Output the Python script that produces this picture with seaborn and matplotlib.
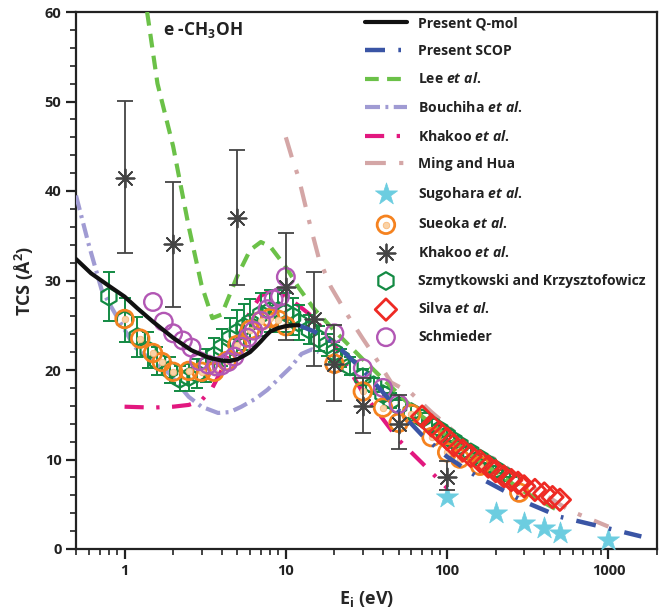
import numpy as np
import pandas as pd
import matplotlib
matplotlib.use("Agg")
import matplotlib.pyplot as plt
import seaborn as sns
from matplotlib.ticker import LogLocator, NullFormatter, MultipleLocator, FixedLocator, FixedFormatter

# ---------------- data ----------------
qmol_E = [0.5, 0.62, 0.8, 1.0, 1.2, 1.5, 2.0, 2.6, 3.3, 4.0, 4.5, 5.0, 5.5, 6.0, 6.5, 7.0, 7.5, 8.0, 9.0, 10, 11, 12]
qmol_y = [32.4, 30.8, 29.4, 28.2, 26.9, 25.4, 23.6, 22.2, 21.4, 21.05, 21.0, 21.2, 21.6, 22.0, 22.6, 23.2, 23.8, 24.3, 24.7, 24.9, 25.0, 25.0]

scop_E = [12, 15, 20, 30, 40, 50, 70, 100, 150, 200, 300, 500, 1000, 1600]
scop_y = [25.0, 24.3, 23.0, 20.0, 17.5, 15.5, 12.7, 10.3, 8.2, 7.0, 5.3, 3.6, 2.3, 1.4]

lee_E = [1.38, 1.6, 2.0, 2.5, 3.0, 3.5, 4.0, 5.0, 6.0, 7.0, 8.0, 10, 12, 15, 20, 30, 40, 50, 70, 100, 150, 200, 300, 500]
lee_y = [60, 52, 45, 36, 29.5, 25.8, 26.2, 30.5, 33.4, 34.3, 33.8, 31.5, 29.2, 26.8, 24.4, 21.2, 19.0, 17.3, 14.8, 12.6, 10.1, 8.6, 6.4, 4.2]

bou_E = [0.5, 0.6, 0.72, 0.83, 1.0, 1.15, 1.5, 1.87, 2.5, 3.0, 3.8, 4.5, 5.3, 6.5, 7.7, 9, 10.7, 12.5, 14.5, 16]
bou_y = [39.5, 34.0, 29.0, 27.0, 24.5, 22.6, 21.0, 19.7, 17.0, 15.9, 15.2, 15.3, 15.9, 16.8, 17.8, 19.0, 20.3, 21.8, 22.3, 22.0]

khl_E = [1, 1.5, 2, 2.5, 3, 3.5, 4, 5, 6, 7, 8, 9, 10, 12, 15, 20, 30, 50, 70, 100]
khl_y = [15.9, 15.8, 15.9, 16.1, 16.6, 18.0, 20.0, 23.5, 26.5, 28.3, 28.8, 28.7, 28.2, 27.2, 25.8, 22.8, 17.5, 12.2, 9.6, 6.8]

ming_E = [10, 11, 12, 14, 16, 19, 24, 30, 35, 45, 60, 80, 100, 140, 200, 340, 575, 1000]
ming_y = [46, 43.5, 41.5, 36.5, 32.5, 29.3, 26.2, 23.5, 21.7, 18.6, 17.4, 15.3, 13.8, 11.4, 10.0, 6.9, 4.3, 2.5]

sug_E = [100, 200, 300, 400, 500, 1000]
sug_y = [5.8, 4.0, 2.9, 2.4, 1.8, 1.0]

sue_E = [1.0, 1.25, 1.5, 1.7, 2.0, 2.5, 3.0, 3.6, 4.3, 5.0, 6.0, 7.0, 8.0, 9.0, 10, 20, 30, 40, 50, 60, 80, 100, 120, 160, 280]
sue_y = [25.7, 23.5, 21.9, 20.9, 19.8, 19.9, 19.8, 19.8, 21.0, 22.8, 24.5, 25.5, 25.8, 25.6, 24.9, 20.7, 17.6, 15.8, 14.1, 15.1, 12.5, 10.8, 10.1, 9.3, 6.3]

kha_E = [1, 2, 5, 10, 15, 20, 30, 50, 100]
kha_y = [41.5, 34.1, 37.0, 29.3, 25.7, 20.7, 16.0, 14.0, 8.0]
kha_lo = [33.1, 27.0, 29.5, 23.3, 20.4, 16.5, 13.0, 11.2, 6.6]
kha_hi = [50.1, 41.0, 44.6, 35.3, 31.0, 25.0, 19.1, 17.2, 9.8]

szm_E = [0.8, 1.0, 1.2, 1.4, 1.6, 1.9, 2.2, 2.5, 2.8, 3.2, 3.6, 4.0, 4.5, 5.0, 5.5, 6.0, 7.0, 8.0, 9.0, 10, 11, 12,
         14, 16, 18, 20, 22, 25, 30, 35, 40, 45, 50, 60, 70, 80, 90, 100, 110, 120, 140, 160, 180, 200, 220, 250]
szm_y = [28.2, 25.6, 23.7, 22.2, 21.0, 20.0, 19.0, 19.2, 19.6, 20.5, 21.6, 22.5, 23.5, 24.2, 24.8, 25.3, 26.2, 26.6, 26.6, 26.4, 26.0, 25.3,
         24.5, 23.5, 22.8, 22.0, 21.3, 20.4, 19.2, 18.3, 17.3, 16.6, 16.0, 15.3, 14.6, 13.9, 13.3, 12.7, 12.1, 11.6, 10.8, 10.1, 9.5, 8.9, 8.4, 7.7]
szm_err = [2.7, 2.5, 2.2, 2.0, 1.6, 1.5, 1.4, 1.5, 1.6, 1.8, 2.0, 2.1, 2.3, 2.5, 2.6, 2.6, 2.4, 2.3, 2.3, 2.2, 2.1, 2.0,
           1.6, 1.4, 1.2, 1.1, 1.0, 1.0, 0.9, 0.8, 0.8, 0.8, 0.7, 0.7, 0.6, 0.6, 0.6, 0.6, 0.5, 0.5, 0.5, 0.5, 0.4, 0.4, 0.4, 0.4]

sil_E = [70, 80, 90, 100, 110, 125, 140, 160, 180, 200, 225, 250, 275, 300, 350, 400, 450, 500]
sil_y = [14.8, 13.8, 13.0, 12.3, 11.6, 11.0, 10.4, 9.8, 9.2, 8.7, 8.1, 7.7, 7.4, 7.0, 6.6, 6.2, 5.8, 5.5]

sch_E = [1.5, 1.75, 2.0, 2.3, 2.6, 2.9, 3.3, 3.7, 4.0, 4.4, 4.8, 5.3, 5.8, 6.3, 7.0, 7.7, 8.4, 9.2, 10, 20, 30, 40, 50]
sch_y = [27.6, 25.4, 24.1, 23.3, 22.5, 21.0, 20.6, 20.4, 20.5, 20.9, 21.5, 22.6, 23.6, 24.4, 25.5, 26.8, 27.9, 28.2, 30.4, 24.1, 20.2, 18.0, 16.2]

labels = ["Present Q-mol", "Present SCOP", "Lee $\\mathit{et\\ al.}$", "Bouchiha $\\mathit{et\\ al.}$",
          "Khakoo $\\mathit{et\\ al.}$", "Ming and Hua", "Sugohara $\\mathit{et\\ al.}$", "Sueoka $\\mathit{et\\ al.}$",
          "Khakoo $\\mathit{et\\ al.}$", "Szmytkowski and Krzysztofowicz", "Silva $\\mathit{et\\ al.}$", "Schmieder"]

# ---------------- style ----------------
FONT = 'Open Sans'
sns.set_style("ticks")
plt.rcParams['font.family'] = [FONT, 'DejaVu Sans']
plt.rcParams['font.weight'] = 'bold'
plt.rcParams['mathtext.fontset'] = 'custom'
plt.rcParams['mathtext.rm'] = FONT + ':bold'
plt.rcParams['mathtext.it'] = FONT + ':italic:bold'
plt.rcParams['mathtext.bf'] = FONT + ':bold'
plt.rcParams['axes.linewidth'] = 1.6
plt.rcParams['axes.edgecolor'] = '#222222'

fig = plt.figure(figsize=(6.59, 6.12), dpi=100)
ax = fig.add_axes([76/659, 1-549/612, (657-76)/659, (549-12)/612])

handles = {}

def line(E, y, color, lw, ls, key, z=3):
    sns.lineplot(x=E, y=y, ax=ax, color=color, linewidth=lw, linestyle=ls, sort=False, zorder=z)
    handles[key] = ax.get_lines()[-1]

line(bou_E, bou_y, '#A09BD3', 3.0, (0, (3.6, 1.3, 0.7, 1.3)), 'bou')
line(khl_E, khl_y, '#E2187F', 3.0, (0, (4.6, 3.0, 0.8, 3.0)), 'khl')
line(ming_E, ming_y, '#D4A6A6', 3.0, (0, (5.0, 3.2, 1.0, 3.2)), 'ming')
line(lee_E, lee_y, '#6BC148', 3.0, (0, (3.3, 2.0)), 'lee', z=4.5)

# scatter markers
ms = 160
sns.scatterplot(x=szm_E, y=szm_y, ax=ax, marker='h', s=ms, facecolor='none', edgecolor='#138A43', linewidth=1.6, zorder=4)
handles['szm'] = ax.collections[-1]
ax.errorbar(szm_E, szm_y, yerr=szm_err, fmt='none', ecolor='#138A43', elinewidth=1.4, capsize=4.5, capthick=1.4, zorder=4)

sns.scatterplot(x=sue_E, y=sue_y, ax=ax, marker='o', s=ms, facecolor='none', edgecolor='#F5821F', linewidth=2.0, zorder=5)
h_sue1 = ax.collections[-1]
sns.scatterplot(x=sue_E, y=sue_y, ax=ax, marker='o', s=22, facecolor='#FAD2A6', edgecolor='#F9B878', linewidth=0.6, zorder=5)
h_sue2 = ax.collections[-1]
handles['sue'] = (h_sue1, h_sue2)

sns.scatterplot(x=sch_E, y=sch_y, ax=ax, marker='o', s=ms, facecolor='none', edgecolor='#B257B4', linewidth=1.7, zorder=5)
handles['sch'] = ax.collections[-1]

sns.scatterplot(x=sil_E, y=sil_y, ax=ax, marker='D', s=120, facecolor='none', edgecolor='#EE2A24', linewidth=2.0, zorder=5)
handles['sil'] = ax.collections[-1]

sns.scatterplot(x=sug_E, y=sug_y, ax=ax, marker='*', s=280, color='#6CCDE0', edgecolor='#6CCDE0', linewidth=0.5, zorder=6)
handles['sug'] = ax.collections[-1]

kerr = [np.array(kha_y) - np.array(kha_lo), np.array(kha_hi) - np.array(kha_y)]
ax.errorbar(kha_E, kha_y, yerr=kerr, fmt='none', ecolor='#444444', elinewidth=1.3, capsize=6, capthick=1.3, zorder=6)
sns.scatterplot(x=kha_E, y=kha_y, ax=ax, marker=(8, 2, 0), s=170, color='#444444', edgecolor='#444444', linewidth=1.3, zorder=6)
handles['kha'] = ax.collections[-1]

line(scop_E, scop_y, '#3A55A5', 3.2, (0, (4.5, 3.0, 0.6, 3.0)), 'scop', z=7)
line(qmol_E, qmol_y, '#111111', 3.0, '-', 'qmol', z=7)

ax.set_xscale('log')
ax.set_xlim(0.5, 2000)
ax.set_ylim(0, 60)

ax.xaxis.set_major_locator(FixedLocator([1, 10, 100, 1000]))
ax.xaxis.set_major_formatter(FixedFormatter(['1', '10', '100', '1000']))
ax.xaxis.set_minor_locator(LogLocator(base=10, subs=np.arange(2, 10), numticks=20))
ax.xaxis.set_minor_formatter(NullFormatter())
ax.yaxis.set_major_locator(MultipleLocator(10))
ax.yaxis.set_minor_locator(MultipleLocator(2))
ax.tick_params(axis='both', which='major', direction='out', length=7, width=1.6, labelsize=10.5, colors='#222222')
ax.tick_params(axis='both', which='minor', direction='out', length=4, width=1.2, colors='#222222')
for lab in ax.get_xticklabels() + ax.get_yticklabels():
    lab.set_fontweight('bold')

ax.set_xlabel('E$_\\mathrm{i}$ (eV)', fontsize=13, fontweight='bold', labelpad=8)
ax.set_ylabel('TCS (Å$^\\mathrm{2}$)', fontsize=13, fontweight='bold', labelpad=6)

ax.text(1.72, 58.0, 'e -CH$_\\mathrm{3}$OH', fontsize=12.5, fontweight='bold', va='center', ha='left', color='#222222')

order = ['qmol', 'scop', 'lee', 'bou', 'khl', 'ming', 'sug', 'sue', 'kha', 'szm', 'sil', 'sch']
leg = ax.legend([handles[k] for k in order], labels, loc='upper left', bbox_to_anchor=(0.49, 1.0),
                frameon=False, fontsize=10.1, handlelength=3.0, handletextpad=0.8, labelspacing=0.97,
                borderpad=0.3, borderaxespad=0.0, scatterpoints=1)
for t in leg.get_texts():
    t.set_fontweight('bold')
    t.set_color('#222222')

sns.despine(ax=ax, top=False, right=False)
fig.savefig('out.png', dpi=100)
